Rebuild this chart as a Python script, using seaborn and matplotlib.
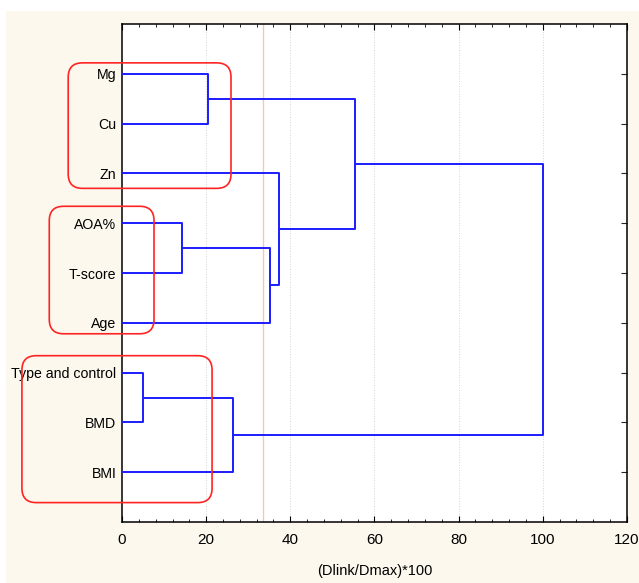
import numpy as np
import pandas as pd
import matplotlib.pyplot as plt
import seaborn as sns
from matplotlib.patches import FancyBboxPatch, Rectangle

# folhas de cima pra baixo
leaves = ['Mg', 'Cu', 'Zn', 'AOA%', 'T-score', 'Age', 'Type and control', 'BMD', 'BMI']
# juncoes: filho esquerdo, filho direito, altura (Dlink/Dmax)*100
merge_left = [0, 3, 10, 2, 9, 6, 14, 13]
merge_right = [1, 4, 5, 11, 12, 7, 8, 15]
merge_height = [20.5, 14.2, 35.2, 37.4, 55.3, 4.9, 26.4, 100.0]
cut_level = 33.6
x_ticks = [0, 20, 40, 60, 80, 100, 120]
# caixas vermelhas (feitas a mao no original)
box_x = [(-12.8, 25.9), (-17.3, 7.6), (-23.8, 21.4)]
box_y = [(0.78, 3.30), (3.66, 6.22), (6.66, 9.61)]

# monta os segmentos do dendrograma
pos_x = [0.0] * len(leaves)
pos_y = [i + 1.0 for i in range(len(leaves))]
rows = []
for k, (l, r, h) in enumerate(zip(merge_left, merge_right, merge_height)):
    rows.append((k, pos_x[l], pos_y[l]))
    rows.append((k, h, pos_y[l]))
    rows.append((k, h, pos_y[r]))
    rows.append((k, pos_x[r], pos_y[r]))
    pos_x.append(h)
    pos_y.append((pos_y[l] + pos_y[r]) / 2)
df = pd.DataFrame(rows, columns=['link', 'x', 'y'])

sns.set_style('white')
plt.rcParams['font.family'] = ['Liberation Sans', 'DejaVu Sans']
plt.rcParams['text.color'] = 'black'
plt.rcParams['axes.labelcolor'] = 'black'
plt.rcParams['xtick.labelcolor'] = 'black'
plt.rcParams['ytick.labelcolor'] = 'black'

fig = plt.figure(figsize=(6.39, 5.83), dpi=100, facecolor='white')
fig.patches.append(Rectangle((6 / 639, 0), 1, (583 - 11) / 583, transform=fig.transFigure,
                             facecolor='#fcf8ed', edgecolor='none', zorder=-1))
ax = fig.add_axes([0.191, 0.1046, 0.790, 0.8542])
ax.set_facecolor('white')

for v in x_ticks[1:-1]:
    ax.axvline(v, color='#d4d4d4', lw=0.7, ls=':', zorder=0)
ax.axvline(cut_level, color='#f5c6b8', lw=1.0, zorder=1)

sns.lineplot(data=df, x='x', y='y', units='link', estimator=None, sort=False,
             color='#1c1cff', lw=1.4, ax=ax, zorder=3)

ax.set_xlim(0, 120)
ax.set_ylim(10, 0)
ax.set_xticks(x_ticks)
ax.set_xticks(np.arange(0, 121, 4), minor=True)
ax.set_yticks(range(1, len(leaves) + 1))
ax.set_yticklabels(leaves)
ax.tick_params(axis='x', which='both', direction='in', top=True, bottom=True,
               labelsize=11, pad=8, color='black')
ax.tick_params(axis='x', which='major', length=4, width=0.8)
ax.tick_params(axis='x', which='minor', length=2.5, width=0.6)
ax.tick_params(axis='y', left=False, right=True, direction='in', length=4,
               width=0.8, labelsize=10.2, pad=4)
for s in ax.spines.values():
    s.set_color('black')
    s.set_linewidth(1.1)
ax.set_xlabel('(Dlink/Dmax)*100', fontsize=10.5, labelpad=12)
ax.set_ylabel('')

asp = (1 / 49.6) / (1 / 4.21)
for (x0, x1), (y0, y1) in zip(box_x, box_y):
    ax.add_patch(FancyBboxPatch((x0, y0), x1 - x0, y1 - y0,
                                boxstyle='round,pad=0,rounding_size=3.4',
                                mutation_aspect=asp, fill=False, edgecolor='#ff2424',
                                lw=1.2, clip_on=False, zorder=4))

plt.savefig('out.png', dpi=100, facecolor=fig.get_facecolor())
